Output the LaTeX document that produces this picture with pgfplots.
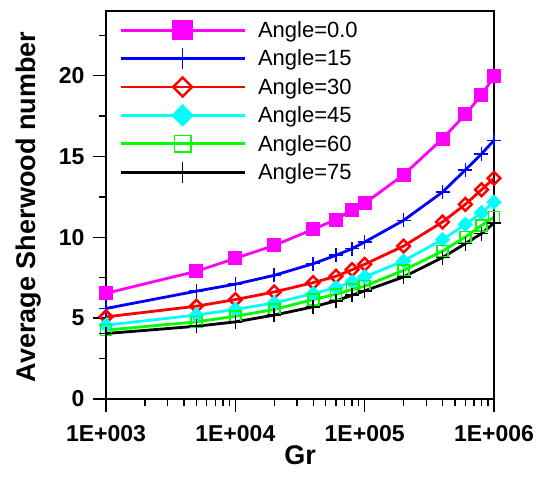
\documentclass[border=0pt]{standalone}
\usepackage{fontspec}
\setmainfont{Liberation Sans}
\usepackage{pgfplots}
\usepackage{pgfplotstable}
\pgfplotsset{compat=1.18}
\definecolor{cMag}{RGB}{255,0,255}
\definecolor{cBlue}{RGB}{0,0,255}
\definecolor{cRed}{RGB}{255,0,0}
\definecolor{cCyan}{RGB}{0,255,255}
\definecolor{cGreen}{RGB}{0,255,0}
\pgfplotstableread{
x       a0     a15    a30    a45    a60    a75
1000    6.54   5.60   5.08   4.57   4.26   4.05
5000    7.90   6.67   5.74   5.19   4.77   4.50
10000   8.70   7.10   6.15   5.54   5.12   4.77
20000   9.50   7.65   6.62   5.94   5.54   5.19
40000   10.50  8.37   7.20   6.52   6.15   5.70
60000   11.10  8.89   7.59   6.89   6.48   6.07
80000   11.70  9.30   8.00   7.24   6.78   6.42
100000  12.10  9.71   8.33   7.55   6.98   6.69
200000  13.87  11.05  9.46   8.54   7.96   7.55
400000  16.10  12.80  10.95  9.86   9.15   8.75
600000  17.60  14.17  12.04  10.80  10.02  9.61
800000  18.80  15.16  12.94  11.52  10.74  10.23
1000000 19.95  16.00  13.66  12.18  11.25  10.88
}\datatable
\begin{document}
\begin{tikzpicture}
\begin{axis}[
  scale only axis, width=388pt, height=388pt,
  xmode=log, xmin=1e3, xmax=1e6, ymin=0, ymax=24,
  axis line style={line width=1.6pt},
  xtick={1e3,1e4,1e5,1e6},
  xticklabels={1E+003,1E+004,1E+005,1E+006},
  minor xtick={2e3,3e3,4e3,5e3,6e3,7e3,8e3,9e3,2e4,3e4,4e4,5e4,6e4,7e4,8e4,9e4,2e5,3e5,4e5,5e5,6e5,7e5,8e5,9e5},
  ytick={0,5,10,15,20},
  yticklabels={0,5,10,15,20},
  minor ytick={2.5,7.5,12.5,17.5,22.5},
  xtick pos=bottom, ytick pos=left, tick align=outside,
  major tick length=13pt, minor tick length=7pt,
  every tick/.append style={line width=1.4pt, black},
  every minor tick/.append style={line width=1.4pt, black},
  ticklabel style={font=\fontsize{23}{23}\selectfont\bfseries},
  xticklabel style={yshift=-10pt},
  yticklabel style={xshift=-5pt},
  xlabel={Gr}, ylabel={Average Sherwood number},
  label style={font=\fontsize{27}{27}\selectfont\bfseries},
  xlabel style={at={(rel axis cs:0.5,0)}, anchor=base, yshift=-66pt},
  ylabel style={at={(rel axis cs:0,0.5)}, anchor=center, yshift=77pt, xshift=-2pt},
  legend style={at={(rel axis cs:0,1)}, anchor=north west, draw=none, fill=none,
    font=\fontsize{22}{22}\selectfont, inner xsep=13pt, inner ysep=7pt,
    row sep=4.4pt, column sep=12pt, nodes={inner sep=0pt}},
  legend cell align=left,
  legend image code/.code={\path[draw=none,fill=none] (0pt,-12pt) rectangle (124pt,12pt);
    \draw[mark repeat=2,mark phase=2,#1, every mark/.append style={scale=1.5}] plot coordinates {(0pt,0pt)(62pt,0pt)(124pt,0pt)};},
  every axis plot/.append style={line width=2.8pt},
]
\addplot[color=cMag, mark=square*, mark size=6.5pt, mark options={solid, line width=1pt}] table[x=x,y=a0]{\datatable};
\addlegendentry{Angle=0.0}
\addplot[color=cBlue, mark=+, mark size=7pt, mark options={line width=1.6pt}] table[x=x,y=a15]{\datatable};
\addlegendentry{Angle=15}
\addplot[color=cRed, mark=square, mark size=4.5pt, mark options={rotate=45, fill=white, line width=2.5pt}] table[x=x,y=a30]{\datatable};
\addlegendentry{Angle=30}
\addplot[color=cCyan, mark=square*, mark size=5pt, mark options={rotate=45, line width=1pt}] table[x=x,y=a45]{\datatable};
\addlegendentry{Angle=45}
\addplot[color=cGreen, mark=square, mark size=5.5pt, mark options={fill=white, line width=1.6pt}] table[x=x,y=a60]{\datatable};
\addlegendentry{Angle=60}
\addplot[color=black, mark=+, mark size=7pt, mark options={line width=1.6pt}] table[x=x,y=a75]{\datatable};
\addlegendentry{Angle=75}
\end{axis}
\pgfresetboundingbox
\path ([shift={(-106pt,-78pt)}]current axis.south west) rectangle ([shift={(49pt,11pt)}]current axis.north east);
\end{tikzpicture}
\end{document}
